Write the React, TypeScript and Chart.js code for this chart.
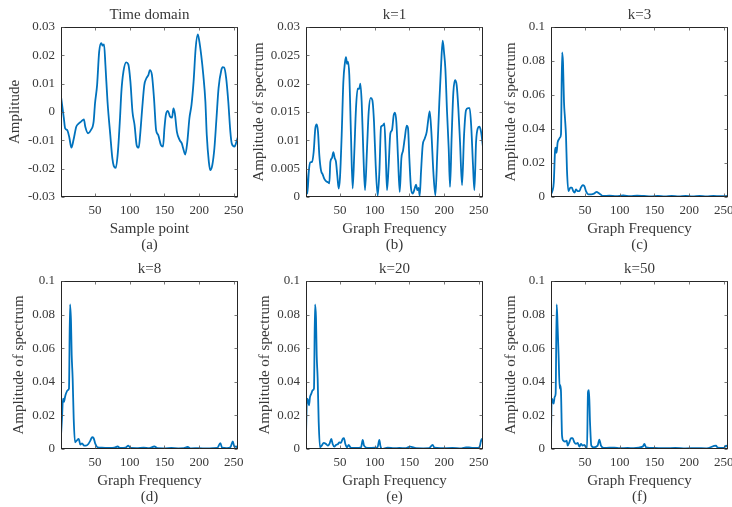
import React, { useEffect, useRef } from 'react';
import { Chart, registerables } from 'chart.js';

Chart.register(...registerables);

const FONT = "'Liberation Serif', 'Times New Roman', serif";
const TEXT = '#383838';
const AXIS = '#262626';
const LINE = '#0072BD';

// ---- tick values ----
const xTickValues = [50, 100, 150, 200, 250];
const timeYTicks = [-0.03, -0.02, -0.01, 0, 0.01, 0.02, 0.03];
const k1YTicks = [0, 0.005, 0.01, 0.015, 0.02, 0.025, 0.03];
const specYTicks = [0, 0.02, 0.04, 0.06, 0.08, 0.1];

// ---- series: [sample / graph frequency, amplitude] ----
const timeDomain: [number, number][] = [
  [1, 0.0054], [5, -0.002], [7, -0.0058], [10, -0.0064], [13, -0.009], [16, -0.0126], [19, -0.0099],
  [23, -0.0052], [26, -0.0042], [30, -0.0034], [34, -0.0026], [36, -0.0052], [40, -0.0075], [44, -0.0064],
  [48, -0.0034], [50, 0.003], [53, 0.0095], [56, 0.0213], [59, 0.0243], [61, 0.0234], [63, 0.0239],
  [65, 0.0166], [68, 0.0037], [72, -0.0081], [75, -0.0164], [77, -0.019], [80, -0.0197], [83, -0.014],
  [86, -0.0022], [88, 0.0072], [91, 0.0143], [95, 0.0175], [98, 0.0168], [101, 0.0107], [104, 0],
  [107, -0.0046], [110, -0.0117], [113, -0.0126], [115, -0.0081], [118, 0.0013], [121, 0.0095],
  [124, 0.0119], [127, 0.0131], [129, 0.0148], [132, 0.0131], [135, 0.0048], [138, -0.0064],
  [141, -0.0081], [145, -0.0117], [148, -0.0122], [150, -0.0058], [152, -0.0011], [155, 0.0004],
  [158, -0.0016], [161, -0.002], [163, 0.0013], [165, -0.0005], [168, -0.007], [172, -0.0099],
  [175, -0.0111], [177, -0.0128], [180, -0.015], [183, -0.0105], [186, -0.0022], [189, 0.0025],
  [192, 0.0107], [195, 0.0225], [198, 0.0274], [200, 0.0254], [203, 0.0201], [206, 0.0131],
  [209, 0.0037], [211, -0.0081], [214, -0.0176], [216, -0.0205], [219, -0.0187], [222, -0.0128],
  [225, -0.0022], [228, 0.0084], [232, 0.0148], [234, 0.0158], [236, 0.0157], [239, 0.0119],
  [242, 0.0037], [245, -0.007], [247, -0.0111], [251, -0.0122], [253, -0.0111], [256, -0.0087],
];

const spectrumK1: [number, number][] = [
  [1, 0.0053], [3, 0.0006], [5, 0.0044], [7, 0.0061], [9.6, 0.0062], [12, 0.0079], [14.4, 0.0121],
  [16.4, 0.0128], [18.3, 0.0115], [20.2, 0.0074], [22.6, 0.0047], [25, 0.004], [27.4, 0.0032],
  [29.8, 0.0028], [32.7, 0.0026], [34.6, 0.0024], [36.1, 0.0062], [38.5, 0.0069], [40.4, 0.0079],
  [42.3, 0.0069], [44.2, 0.0062], [46.1, 0.0038], [48.1, 0.0015], [50, 0.0035], [52.4, 0.0109],
  [54.8, 0.0203], [57.2, 0.0238], [58.6, 0.0247], [60.1, 0.0235], [61.5, 0.0239], [63.4, 0.0215],
  [65.8, 0.0109], [68.2, 0.0015], [70.6, 0.0079], [73, 0.0156], [75.4, 0.0191], [77.8, 0.0191],
  [79.3, 0.02], [81.2, 0.0168], [83.6, 0.0079], [86, 0.0012], [88.9, 0.0085], [91.3, 0.015],
  [94.2, 0.0175], [96.6, 0.0171], [99, 0.0132], [101.4, 0.0056], [104.3, 0.0002], [106.7, 0.0044],
  [109.1, 0.0124], [111.5, 0.0126], [113.9, 0.013], [115.8, 0.0079], [117.7, 0.0012], [120.1, 0.0056],
  [122.5, 0.0112], [124.9, 0.0118], [127.3, 0.0144], [129.2, 0.0149], [131.2, 0.0132], [133.6, 0.0068],
  [136, 0.0009], [138.4, 0.0068], [140.8, 0.0082], [143.2, 0.0103], [146.1, 0.0126], [148, 0.0121],
  [149.9, 0.0068], [152.3, 0.0015], [154.7, 0.0006], [157.6, 0.0015], [159.5, 0.0022], [161.4, 0.0012],
  [163.3, 0.0016], [164.8, 0.0002], [166.7, 0.0044], [169.1, 0.0091], [172, 0.0103], [174.9, 0.0115],
  [177.3, 0.0138], [179.2, 0.0151], [181.6, 0.0115], [184.5, 0.0044], [187.4, 0.0003], [190.2, 0.0079],
  [193.1, 0.0168], [195.5, 0.0229], [197.9, 0.0276], [199.8, 0.0256], [201.8, 0.0226], [204.2, 0.015],
  [206.6, 0.0085], [208.5, 0.0018], [210.9, 0.0109], [213.3, 0.0185], [215.7, 0.0206], [218.1, 0.0197],
  [220.5, 0.0156], [222.9, 0.0097], [225.8, 0.0021], [228.7, 0.0109], [231.5, 0.0153], [234.4, 0.0157],
  [236.8, 0.0157], [239.2, 0.0121], [241.6, 0.0056], [243.6, 0.0012], [246, 0.0097], [248.4, 0.0121],
  [250.8, 0.0124], [253.2, 0.0115], [256, 0.0088],
];

const spectrumK3: [number, number][] = [
  [1, 0.0016], [3, 0.0035], [5, 0.0085], [7, 0.028], [8, 0.029], [9, 0.026], [10.5, 0.032], [12.5, 0.034],
  [14, 0.035], [15.4, 0.037], [17, 0.085], [18.3, 0.079], [19.7, 0.056], [21.2, 0.046], [22.6, 0.036],
  [24, 0.016], [26, 0.0035], [29, 0.0055], [31, 0.0055], [33, 0.0035], [35, 0.0026], [37, 0.0045],
  [39.4, 0.0035], [42, 0.0035], [44, 0.0055], [46.6, 0.0069], [49, 0.0065], [51.4, 0.0035], [55, 0.0016],
  [59, 0.0016], [63, 0.002], [67, 0.003], [69, 0.0025], [72, 0.0016], [76, 0.0006], [85, 0.0008],
  [95, 0.0005], [105, 0.0009], [115, 0.0005], [125, 0.0008], [135, 0.0006], [145, 0.0004], [155, 0.0007],
  [165, 0.0004], [175, 0.0006], [185, 0.0003], [195, 0.0006], [205, 0.0004], [215, 0.0007], [225, 0.0004],
  [235, 0.0006], [245, 0.0005], [256, 0.0006],
];

const spectrumK8: [number, number][] = [
  [1, 0.008], [2.4, 0.018], [3.9, 0.03], [5.3, 0.028], [6.8, 0.031], [8.2, 0.033], [10.6, 0.035],
  [12.5, 0.036], [14, 0.086], [15.4, 0.076], [16.4, 0.056], [17.8, 0.042], [19.3, 0.018], [21.2, 0.004],
  [23.6, 0.005], [26.5, 0.006], [28.9, 0.0026], [31.3, 0.0034], [34.3, 0.002], [37, 0.002], [40.4, 0.003],
  [43.3, 0.005], [45.7, 0.007], [48.1, 0.0064], [50.5, 0.003], [53.8, 0.001], [60, 0.0008], [70, 0.0006],
  [78, 0.0008], [82.6, 0.0015], [86, 0.0006], [94, 0.0008], [98, 0.002], [101, 0.0006], [110, 0.0005],
  [120, 0.0008], [128, 0.0005], [135.5, 0.0015], [140, 0.0005], [150, 0.0004], [160, 0.0006], [170, 0.0004],
  [178, 0.0005], [183.5, 0.0012], [188, 0.0004], [200, 0.0005], [210, 0.0003], [220, 0.0005], [226, 0.0006],
  [230.6, 0.0035], [233, 0.0008], [240, 0.0005], [245, 0.001], [248.4, 0.0045], [251, 0.0012],
  [253, 0.0015], [256, 0.0005],
];

const spectrumK20: [number, number][] = [
  [1, 0.008], [2.4, 0.03], [3.9, 0.029], [5.3, 0.026], [6.8, 0.031], [8.7, 0.033], [10.6, 0.035],
  [12.5, 0.036], [14, 0.086], [15.4, 0.078], [16.4, 0.056], [17.8, 0.042], [19.3, 0.016], [21.2, 0.001],
  [23.6, 0.002], [26.5, 0.0036], [29.8, 0.003], [32.7, 0.002], [35.1, 0.0034], [37.5, 0.006], [39.4, 0.003],
  [41.8, 0.0014], [44.2, 0.0024], [47.1, 0.003], [49, 0.004], [51.4, 0.0036], [53.8, 0.006], [55.7, 0.0064],
  [57.7, 0.003], [60.1, 0.001], [62.5, 0.0024], [64.9, 0.001], [68, 0.0006], [73, 0.0006], [80.3, 0.001],
  [82.7, 0.0054], [84.6, 0.002], [90, 0.0006], [100, 0.0008], [104, 0.001], [106.7, 0.0054], [108.1, 0.002],
  [110, 0.0001], [118.7, 0.0008], [128, 0.0005], [135.5, 0.0006], [145, 0.0005], [150.9, 0.0014],
  [159.5, 0.0005], [170, 0.0004], [178, 0.0005], [183.5, 0.0024], [185.9, 0.0008], [195, 0.0005],
  [212, 0.0006], [225, 0.0004], [231.5, 0.001], [238, 0.0008], [245.9, 0.0006], [250.8, 0.001],
  [253.2, 0.005], [254.6, 0.006], [256, 0.004],
];

const spectrumK50: [number, number][] = [
  [1, 0.008], [2, 0.03], [3.4, 0.029], [4.8, 0.027], [6.3, 0.031], [7.7, 0.033], [9.2, 0.086], [10.6, 0.072],
  [12, 0.055], [13.5, 0.036], [14.4, 0.038], [15.4, 0.034], [16.9, 0.008], [18.8, 0.005], [21.2, 0.0044],
  [23.6, 0.005], [25, 0.002], [27.4, 0.004], [29.8, 0.0064], [32.2, 0.0064], [34.6, 0.004], [37, 0.003],
  [39.4, 0.0036], [41.8, 0.0014], [44.2, 0.003], [46.6, 0.002], [49, 0.0024], [51.4, 0.001], [52.9, 0.0006],
  [54.3, 0.034], [55.7, 0.035], [57.2, 0.016], [59.1, 0.002], [62.5, 0.001], [68.2, 0.002], [70.6, 0.0056],
  [73, 0.002], [76.9, 0.0006], [85, 0.0008], [92.3, 0.0008], [100, 0.0005], [111.5, 0.0006], [120, 0.0005],
  [133.1, 0.0014], [135.5, 0.003], [137.9, 0.001], [150, 0.0006], [165, 0.0005], [180, 0.0006], [195, 0.0004],
  [210, 0.0005], [225, 0.0004], [238.7, 0.002], [241, 0.0008], [250, 0.0006], [253.2, 0.002], [256, 0.001],
];

const fmt = (v: number | string) => String(Number(Number(v).toFixed(4)));

const boxPlugin = {
  id: 'matlabBox',
  afterDatasetsDraw(chart: any) {
    const { ctx, chartArea } = chart;
    const { left, right, top, bottom } = chartArea;
    const xs = chart.scales.x;
    const ys = chart.scales.y;
    ctx.save();
    ctx.strokeStyle = AXIS;
    ctx.lineWidth = 1;
    const l = Math.round(left) + 0.5;
    const t = Math.round(top) + 0.5;
    const r = Math.round(right) - 0.5;
    const b = Math.round(bottom) - 0.5;
    ctx.strokeRect(l, t, r - l, b - t);
    ctx.strokeStyle = '#555555';
    ctx.lineWidth = 0.8;
    ctx.beginPath();
    const len = 3;
    for (const tk of xs.ticks) {
      const px = Math.round(xs.getPixelForValue(tk.value)) + 0.5;
      ctx.moveTo(px, b);
      ctx.lineTo(px, b - len);
      ctx.moveTo(px, t);
      ctx.lineTo(px, t + len);
    }
    for (const tk of ys.ticks) {
      const py = Math.round(ys.getPixelForValue(tk.value)) + 0.5;
      ctx.moveTo(l, py);
      ctx.lineTo(l + len, py);
      ctx.moveTo(r, py);
      ctx.lineTo(r - len, py);
    }
    ctx.stroke();
    ctx.restore();
  },
};

type Spec = {
  data: [number, number][];
  title: string;
  xTitle: string;
  letter: string;
  yTitle: string;
  yTicks: number[];
  col: number;
  row: number;
  yTitlePad: number;
};

const COLS = [
  { left: 0, width: 244, padL: 61, padR: 6 },
  { left: 244, width: 245, padL: 62, padR: 6 },
  { left: 489, width: 243, padL: 62, padR: 4 },
];
const ROWS = [
  { top: 0, height: 260, titleTop: 6, titleBottom: 3, xAxisH: 63, xTitleBottom: 7 },
  { top: 253, height: 254, titleTop: 7, titleBottom: 3, xAxisH: 58, xTitleBottom: 2 },
];

const SPECS: Spec[] = [
  { data: timeDomain, title: 'Time domain', xTitle: 'Sample point', letter: '(a)', yTitle: 'Amplitude', yTicks: timeYTicks, col: 0, row: 0, yTitlePad: 6 },
  { data: spectrumK1, title: 'k=1', xTitle: 'Graph Frequency', letter: '(b)', yTitle: 'Amplitude of spectrum', yTicks: k1YTicks, col: 1, row: 0, yTitlePad: 6 },
  { data: spectrumK3, title: 'k=3', xTitle: 'Graph Frequency', letter: '(c)', yTitle: 'Amplitude of spectrum', yTicks: specYTicks, col: 2, row: 0, yTitlePad: 13 },
  { data: spectrumK8, title: 'k=8', xTitle: 'Graph Frequency', letter: '(d)', yTitle: 'Amplitude of spectrum', yTicks: specYTicks, col: 0, row: 1, yTitlePad: 10.5 },
  { data: spectrumK20, title: 'k=20', xTitle: 'Graph Frequency', letter: '(e)', yTitle: 'Amplitude of spectrum', yTicks: specYTicks, col: 1, row: 1, yTitlePad: 12 },
  { data: spectrumK50, title: 'k=50', xTitle: 'Graph Frequency', letter: '(f)', yTitle: 'Amplitude of spectrum', yTicks: specYTicks, col: 2, row: 1, yTitlePad: 13 },
];

function Panel({ spec }: { spec: Spec }) {
  const ref = useRef<HTMLCanvasElement>(null);
  const c = COLS[spec.col];
  const r = ROWS[spec.row];
  useEffect(() => {
    if (!ref.current) return;
    const chart = new Chart(ref.current, {
      type: 'line',
      data: {
        datasets: [
          {
            data: spec.data.map(([x, y]) => ({ x, y })),
            borderColor: LINE,
            borderWidth: 1.8,
            pointRadius: 0,
            fill: false,
            cubicInterpolationMode: 'monotone',
          },
        ],
      },
      options: {
        responsive: false,
        animation: false,
        devicePixelRatio: 1,
        events: [],
        layout: { padding: { left: 0, right: c.padR, top: 0, bottom: 0 } },
        plugins: {
          legend: { display: false },
          tooltip: { enabled: false },
          title: {
            display: true,
            fullSize: false,
            text: spec.title,
            color: TEXT,
            font: { family: FONT, size: 15, weight: 'normal', lineHeight: 1.2 },
            padding: { top: r.titleTop, bottom: r.titleBottom },
          },
        },
        scales: {
          x: {
            type: 'linear',
            min: 1,
            max: 256,
            grid: { display: false, drawTicks: false },
            border: { display: false },
            ticks: {
              color: TEXT,
              font: { family: FONT, size: 13 },
              padding: 6,
              autoSkip: false,
              maxRotation: 0,
              callback: (v: any) => fmt(v),
            },
            afterBuildTicks: (s: any) => {
              s.ticks = xTickValues.map((value) => ({ value }));
            },
            afterFit: (s: any) => {
              s.height = r.xAxisH;
              s.paddingLeft = 0;
              s.paddingRight = 0;
            },
            title: {
              display: true,
              text: [spec.xTitle, spec.letter],
              color: TEXT,
              font: { family: FONT, size: 15, weight: 'normal', lineHeight: '16px' },
              padding: { top: 0, bottom: r.xTitleBottom },
            },
          },
          y: {
            type: 'linear',
            min: spec.yTicks[0],
            max: spec.yTicks[spec.yTicks.length - 1],
            grid: { display: false, drawTicks: false },
            border: { display: false },
            ticks: {
              color: TEXT,
              font: { family: FONT, size: 13 },
              padding: 6,
              autoSkip: false,
              callback: (v: any) => fmt(v),
            },
            afterBuildTicks: (s: any) => {
              s.ticks = spec.yTicks.map((value) => ({ value }));
            },
            afterFit: (s: any) => {
              s.width = c.padL;
              s.paddingTop = 0;
              s.paddingBottom = 0;
            },
            title: {
              display: true,
              text: spec.yTitle,
              color: TEXT,
              font: { family: FONT, size: 15, weight: 'normal', lineHeight: 1.2 },
              padding: { top: spec.yTitlePad, bottom: 0 },
            },
          },
        },
      } as any,
      plugins: [boxPlugin],
    });
    return () => chart.destroy();
  }, []);
  return (
    <canvas
      ref={ref}
      width={c.width}
      height={r.height}
      style={{ position: 'absolute', left: c.left, top: r.top, width: c.width, height: r.height }}
    />
  );
}

export default function App() {
  return (
    <div style={{ position: 'fixed', left: 0, top: 0, width: 732, height: 507, background: '#ffffff', overflow: 'hidden' }}>
      {SPECS.map((s, i) => (
        <Panel key={i} spec={s} />
      ))}
    </div>
  );
}
